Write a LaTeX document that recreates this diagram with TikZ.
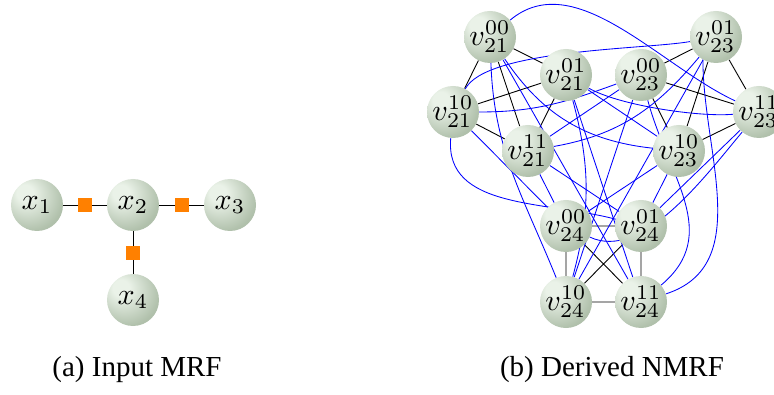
\documentclass[tikz,border=0pt]{standalone}
\usepackage[no-math]{fontspec}
\usetikzlibrary{backgrounds}
\newfontfamily\capfont{Liberation Serif}
\definecolor{sagehi}{RGB}{234,242,232}
\definecolor{sagemid}{RGB}{177,193,172}
\definecolor{sagedark}{RGB}{84,100,84}
\definecolor{factorc}{RGB}{255,128,0}
% light sage sphere, highlight towards the upper left
\pgfdeclareradialshading{sageball}{\pgfpoint{-13bp}{13bp}}{%
  color(0bp)=(sagehi); color(8bp)=(sagehi); color(32bp)=(sagemid);
  color(48bp)=(sagemid!80!sagedark); color(64bp)=(sagedark); color(72bp)=(sagedark)}
\newcommand{\ballmath}[1]{\scalebox{3.0}{$#1$}}

\begin{document}
\begin{tikzpicture}[x=1pt,y=1pt,
  ballnode/.style={circle, shade, shading=sageball, minimum size=52pt, inner sep=0pt},
  factor/.style={rectangle, fill=factorc, minimum size=14pt, inner sep=0pt},
  inedge/.style={black, line width=0.9pt},
  xedge/.style={blue, line width=0.85pt},
  caption/.style={font=\capfont\fontsize{29}{34}\selectfont, anchor=base}]
\useasboundingbox (0,0) rectangle (774,394);

% ---------- (a) pairwise MRF ----------
\node[ballnode] (x1) at (37,189)  {\ballmath{x_1}};
\node[ballnode] (x2) at (133,189) {\ballmath{x_2}};
\node[ballnode] (x3) at (230,189) {\ballmath{x_3}};
\node[ballnode] (x4) at (133,94)  {\ballmath{x_4}};
\node[factor] (f12) at (85,189)  {};
\node[factor] (f23) at (182,189) {};
\node[factor] (f24) at (133,141) {};

% ---------- (b) derived NMRF ----------
\node[ballnode] (A0) at (490,357) {\ballmath{v_{21}^{00}}};
\node[ballnode] (A1) at (566,319) {\ballmath{v_{21}^{01}}};
\node[ballnode] (A2) at (453,282) {\ballmath{v_{21}^{10}}};
\node[ballnode] (A3) at (528,243) {\ballmath{v_{21}^{11}}};
\node[ballnode] (B0) at (641,319) {\ballmath{v_{23}^{00}}};
\node[ballnode] (B1) at (716,357) {\ballmath{v_{23}^{01}}};
\node[ballnode] (B2) at (679,243) {\ballmath{v_{23}^{10}}};
\node[ballnode] (B3) at (759,282) {\ballmath{v_{23}^{11}}};
\node[ballnode] (C0) at (566,168) {\ballmath{v_{24}^{00}}};
\node[ballnode] (C1) at (641,168) {\ballmath{v_{24}^{01}}};
\node[ballnode] (C2) at (566,92)  {\ballmath{v_{24}^{10}}};
\node[ballnode] (C3) at (641,92)  {\ballmath{v_{24}^{11}}};

\node[caption] (capa) at (137,18) {(a) Input MRF};
\node[caption] (capb) at (612,18) {(b) Derived NMRF};

\begin{pgfonlayer}{background}
  % factor links
  \draw[inedge] (x1) -- (f12) -- (x2);
  \draw[inedge] (x2) -- (f23) -- (x3);
  \draw[inedge] (x2) -- (f24) -- (x4);

  % configurations of one factor exclude each other
  \draw[inedge] (A0)--(A1) (A0)--(A2) (A0)--(A3) (A1)--(A2) (A1)--(A3) (A2)--(A3);
  \draw[inedge] (B0)--(B1) (B0)--(B2) (B0)--(B3) (B1)--(B2) (B1)--(B3) (B2)--(B3);
  \draw[inedge] (C0)--(C1) (C0)--(C2) (C0)--(C3) (C1)--(C2) (C1)--(C3) (C2)--(C3);

  % disagreement on x2 between factors 21 and 23
  \draw[xedge] (A0) to[out=40,in=155,looseness=0.9] (B3);
  \draw[xedge] (A0) to[bend right=25] (B2);
  \draw[xedge] (A1) to[out=-30,in=185,looseness=0.6] (B3);
  \draw[xedge] (A1) -- (B2);
  \draw[xedge] (A2) to[out=62,in=190,looseness=0.5] (B1);
  \draw[xedge] (A2) to[out=0,in=200] (B0);
  \draw[xedge] (A3) -- (B0);
  \draw[xedge] (A3) to[out=10,in=230] (B1);

  % disagreement on x2 between factors 21 and 24
  \draw[xedge] (A0) to[out=-88,in=112] (C2);
  \draw[xedge] (A0) -- (C3);
  \draw[xedge] (A1) to[bend left=15] (C2);
  \draw[xedge] (A1) -- (C3);
  \draw[xedge] (A2) -- (C0);
  \draw[xedge] (A2) to[out=-95,in=165] (C1);
  \draw[xedge] (A3) -- (C0);
  \draw[xedge] (A3) -- (C1);

  % disagreement on x2 between factors 23 and 24
  \draw[xedge] (B0) -- (C2);
  \draw[xedge] (B0) to[out=-75,in=40,looseness=1.1] (C3);
  \draw[xedge] (B1) -- (C2);
  \draw[xedge] (B1.-120) to[out=-90,in=18] (C3);
  \draw[xedge] (B2) -- (C0);
  \draw[xedge] (B2) -- (C1);
  \draw[xedge] (C0) to[out=-25,in=230,looseness=0.8] (B3);
  \draw[xedge] (B3) -- (C1);
\end{pgfonlayer}
\end{tikzpicture}
\end{document}
